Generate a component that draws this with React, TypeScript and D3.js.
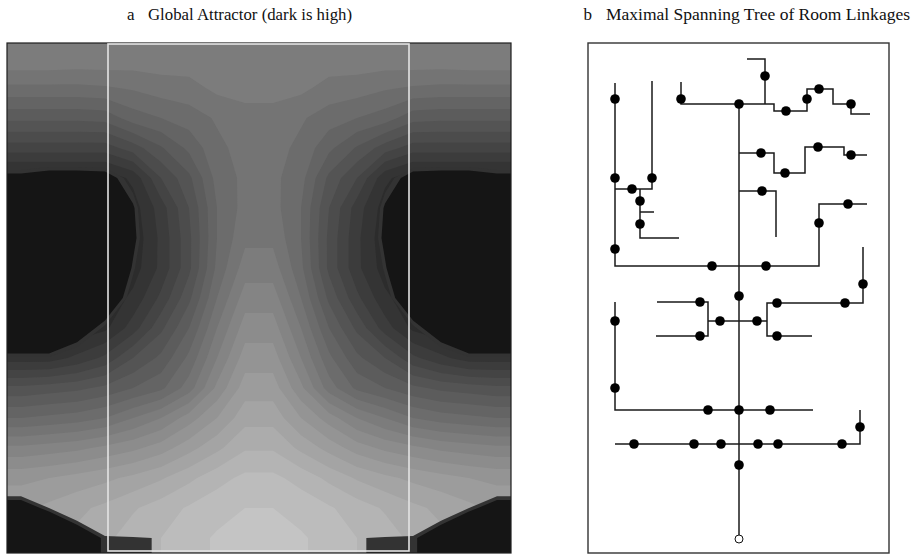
import React from "react";
import * as d3 from "d3";

// floor plan is 504 x 510 units; the attractor is sampled on an 18 x 17 grid of it
const PLAN_W = 504;
const PLAN_H = 510;
const COLS = 18;
const ROWS = 17;

// grey level of the attractor at each sample (0 black .. 255 white), top row first
const shade = [
  127, 127, 126, 126, 125, 125, 125, 126, 126, 126, 126, 125, 125, 125, 126, 126, 127, 127,
  110, 110, 110, 111, 113, 116, 117, 122, 124, 124, 122, 117, 116, 113, 111, 110, 110, 110,
  90, 90, 90, 91, 100, 104, 108, 113, 116, 116, 113, 108, 104, 100, 91, 90, 90, 90,
  68, 68, 68, 68, 76, 87, 98, 110, 115, 115, 110, 98, 87, 76, 68, 68, 68, 68,
  42, 42, 42, 42, 50, 72, 86, 107, 114, 114, 107, 86, 72, 50, 42, 42, 42, 42,
  42, 42, 42, 42, 44, 60, 80, 104, 115, 115, 104, 80, 60, 44, 42, 42, 42, 42,
  42, 42, 42, 42, 42, 58, 78, 104, 118, 118, 104, 78, 58, 42, 42, 42, 42, 42,
  42, 42, 42, 42, 44, 58, 78, 106, 124, 124, 106, 78, 58, 44, 42, 42, 42, 42,
  42, 42, 42, 42, 50, 66, 86, 112, 132, 132, 112, 86, 66, 50, 42, 42, 42, 42,
  42, 42, 42, 46, 60, 78, 96, 120, 140, 140, 120, 96, 78, 60, 46, 42, 42, 42,
  52, 52, 58, 66, 80, 90, 106, 128, 148, 148, 128, 106, 90, 80, 66, 58, 52, 52,
  82, 84, 86, 90, 96, 102, 116, 138, 156, 156, 138, 116, 102, 96, 90, 86, 84, 82,
  104, 106, 108, 112, 120, 128, 140, 152, 165, 165, 152, 140, 128, 120, 112, 108, 106, 104,
  130, 132, 134, 138, 142, 148, 157, 166, 175, 175, 166, 157, 148, 142, 138, 134, 132, 130,
  150, 152, 155, 158, 162, 167, 174, 181, 186, 186, 181, 174, 167, 162, 158, 155, 152, 150,
  158, 162, 166, 170, 175, 180, 185, 189, 192, 192, 189, 185, 180, 175, 170, 166, 162, 158,
  162, 166, 170, 174, 180, 184, 189, 193, 196, 196, 193, 189, 184, 180, 174, 170, 166, 162,
];

// depth inside the two high basins and the corner wedges (positive = inside)
const core = [
  -3, -3, -3, -3, -3, -3, -3, -3, -3, -3, -3, -3, -3, -3, -3, -3, -3, -3,
  -3, -3, -3, -3, -3, -3, -3, -3, -3, -3, -3, -3, -3, -3, -3, -3, -3, -3,
  -3, -3, -3, -3, -3, -3, -3, -3, -3, -3, -3, -3, -3, -3, -3, -3, -3, -3,
  -2.2, -1.9, -1.9, -2, -2.9, -3, -3, -3, -3, -3, -3, -3, -3, -2.9, -2, -1.9, -1.9, -2.2,
  0.8, 1.1, 1.1, 1, -0.5, -3, -3, -3, -3, -3, -3, -3, -3, -0.5, 1, 1.1, 1.1, 0.8,
  3, 3, 3, 3, 0.5, -2.3, -3, -3, -3, -3, -3, -3, -2.3, 0.5, 3, 3, 3, 3,
  3, 3, 3, 3, 0.7, -2.1, -3, -3, -3, -3, -3, -3, -2.1, 0.7, 3, 3, 3, 3,
  3, 3, 3, 3, 0.2, -2.6, -3, -3, -3, -3, -3, -3, -2.6, 0.2, 3, 3, 3, 3,
  3, 3, 3, 2, -0.6, -3, -3, -3, -3, -3, -3, -3, -3, -0.6, 2, 3, 3, 3,
  2.9, 2.9, 1.4, -0.2, -2.2, -3, -3, -3, -3, -3, -3, -3, -3, -2.2, -0.2, 1.4, 2.9, 2.9,
  -0.1, -0.1, -0.8, -2.2, -3, -3, -3, -3, -3, -3, -3, -3, -3, -3, -2.2, -0.8, -0.1, -0.1,
  -3, -3, -3, -3, -3, -3, -3, -3, -3, -3, -3, -3, -3, -3, -3, -3, -3, -3,
  -3, -3, -3, -3, -3, -3, -3, -3, -3, -3, -3, -3, -3, -3, -3, -3, -3, -3,
  -3, -3, -3, -3, -3, -3, -3, -3, -3, -3, -3, -3, -3, -3, -3, -3, -3, -3,
  -1.7, -2.8, -3, -3, -3, -3, -3, -3, -3, -3, -3, -3, -3, -3, -3, -3, -2.8, -1.7,
  1.1, 0, -1.1, -2.2, -3, -3, -3, -3, -3, -3, -3, -3, -3, -3, -2.2, -1.1, 0, 1.1,
  3, 3, 1.5, 0.15, 0.1, -0.05, -1, -3, -3, -3, -3, -1, -0.05, 0.1, 0.15, 1.5, 3, 3,
];

const shadeSteps = [40, 48, 56, 64, 72, 80, 88, 96, 104, 112, 120, 128, 136, 144, 152, 160, 168, 176, 184, 192];
const coreSteps = [0, 0.35];
const coreColors = ["#333333", "#151515"];

// part of the plan shown in panel b (white frame in panel a)
const regionX = [101, 402];
const regionY = [1, 508];

// rooms of the spanning tree, plan coordinates
const rooms = [
  [128, 56], [194, 56], [252, 61], [278, 33], [299, 68], [320, 56], [332, 46], [364, 61],
  [274, 110], [298, 130], [331, 104], [364, 112],
  [128, 135], [165, 135], [145, 146], [153, 158], [153, 181],
  [275, 148], [332, 180], [361, 161],
  [128, 206], [225, 223], [279, 223],
  [376, 241], [252, 253], [213, 259], [290, 260], [358, 260],
  [128, 278], [233, 278], [270, 278], [213, 293], [290, 293],
  [128, 345], [221, 367], [252, 367], [283, 367], [373, 384],
  [147, 401], [207, 401], [234, 401], [271, 401], [291, 401], [355, 401],
  [252, 422],
];
const rootRoom = [252, 496];

// corridors linking the rooms
const links = [
  [[252, 61], [252, 496]],
  [[194, 39], [194, 61], [287, 61], [287, 68], [320, 68], [320, 46], [346, 46], [346, 61], [364, 61], [364, 71], [383, 71]],
  [[260, 16], [278, 16], [278, 61]],
  [[252, 110], [287, 110], [287, 130], [318, 130], [318, 104], [357, 104], [357, 112], [380, 112]],
  [[252, 148], [289, 148], [289, 194]],
  [[128, 40], [128, 223], [332, 223], [332, 161], [380, 161]],
  [[165, 38], [165, 146], [128, 146]],
  [[153, 146], [153, 195], [192, 195]],
  [[153, 169], [167, 169]],
  [[376, 204], [376, 260], [280, 260], [280, 293], [325, 293]],
  [[221, 278], [280, 278]],
  [[170, 259], [221, 259], [221, 293], [169, 293]],
  [[128, 259], [128, 367], [326, 367]],
  [[128, 401], [373, 401], [373, 367]],
];

const grey = (v: number) => d3.rgb(v, v, v).toString();

// repeat the outer samples once so the contours run cleanly to the plan edge
const padGrid = (vals: number[]) => {
  const out: number[] = [];
  for (let j = -1; j <= ROWS; j++) {
    const jj = Math.max(0, Math.min(ROWS - 1, j));
    for (let i = -1; i <= COLS; i++) {
      const ii = Math.max(0, Math.min(COLS - 1, i));
      out.push(vals[jj * COLS + ii]);
    }
  }
  return out;
};

export default function App() {
  const width = 912;
  const height = 557;

  // panel a
  const xL = d3.scaleLinear().domain([0, PLAN_W]).range([7, 511]);
  const yL = d3.scaleLinear().domain([0, PLAN_H]).range([43, 553]);
  const gx = d3.scaleLinear().domain([1, COLS + 1]).range(xL.range());
  const gy = d3.scaleLinear().domain([1, ROWS + 1]).range(yL.range());
  const gridPath = d3.geoPath(
    d3.geoTransform({
      point: function (x: number, y: number) {
        this.stream.point(gx(x), gy(y));
      },
    })
  );
  const contour = d3.contours().size([COLS + 2, ROWS + 2]);
  const bands = contour.thresholds(shadeSteps)(padGrid(shade));
  const cores = contour.thresholds(coreSteps)(padGrid(core));

  // panel b
  const xR = d3.scaleLinear().domain(regionX).range([588, 889]);
  const yR = d3.scaleLinear().domain([0, PLAN_H]).range([43, 553]);
  const corridor = d3
    .line<number[]>()
    .x((d) => xR(d[0]))
    .y((d) => yR(d[1]));

  const fx = xL(0);
  const fy = yL(0);
  const fw = xL(PLAN_W) - xL(0);
  const fh = yL(PLAN_H) - yL(0);

  return (
    <svg
      width={width}
      height={height}
      style={{ position: "absolute", left: 0, top: 0, background: "#fff" }}
      fontFamily="'Liberation Serif', 'Times New Roman', serif"
    >
      <defs>
        <clipPath id="plan">
          <rect x={fx} y={fy} width={fw} height={fh} />
        </clipPath>
      </defs>
      <text x={127} y={19.5} fontSize={17} fill="#111">a</text>
      <text x={148} y={19.5} fontSize={17} fill="#111" textLength={204} lengthAdjust="spacingAndGlyphs">
        Global Attractor (dark is high)
      </text>
      <text x={583.5} y={19.5} fontSize={17} fill="#111">b</text>
      <text x={606} y={19.5} fontSize={17} fill="#111" textLength={304} lengthAdjust="spacingAndGlyphs">
        Maximal Spanning Tree of Room Linkages
      </text>

      {/* a: attractor field */}
      <g clipPath="url(#plan)">
        <rect x={fx} y={fy} width={fw} height={fh} fill="#262626" />
        {bands.map((b) => (
          <path key={"s" + b.value} d={gridPath(b) || ""} fill={grey(b.value + 4)} />
        ))}
        {cores.map((c, i) => (
          <path key={"c" + c.value} d={gridPath(c) || ""} fill={coreColors[i]} />
        ))}
      </g>
      <rect x={fx} y={fy} width={fw} height={fh} fill="none" stroke="#1e1e1e" strokeWidth={1.2} />
      <rect
        x={xL(regionX[0])}
        y={yL(regionY[0])}
        width={xL(regionX[1]) - xL(regionX[0])}
        height={yL(regionY[1]) - yL(regionY[0])}
        fill="none"
        stroke="#e4e4e4"
        strokeWidth={1.6}
      />

      {/* b: spanning tree */}
      <rect
        x={xR(regionX[0])}
        y={yR(0)}
        width={xR(regionX[1]) - xR(regionX[0])}
        height={yR(PLAN_H) - yR(0)}
        fill="#fff"
        stroke="#333"
        strokeWidth={1.4}
      />
      {links.map((l, i) => (
        <path key={"l" + i} d={corridor(l) || ""} fill="none" stroke="#1a1a1a" strokeWidth={1.5} />
      ))}
      {rooms.map((r, i) => (
        <circle key={"r" + i} cx={xR(r[0])} cy={yR(r[1])} r={4.8} fill="#000" />
      ))}
      <circle cx={xR(rootRoom[0])} cy={yR(rootRoom[1])} r={4} fill="#fff" stroke="#111" strokeWidth={1} />
    </svg>
  );
}
